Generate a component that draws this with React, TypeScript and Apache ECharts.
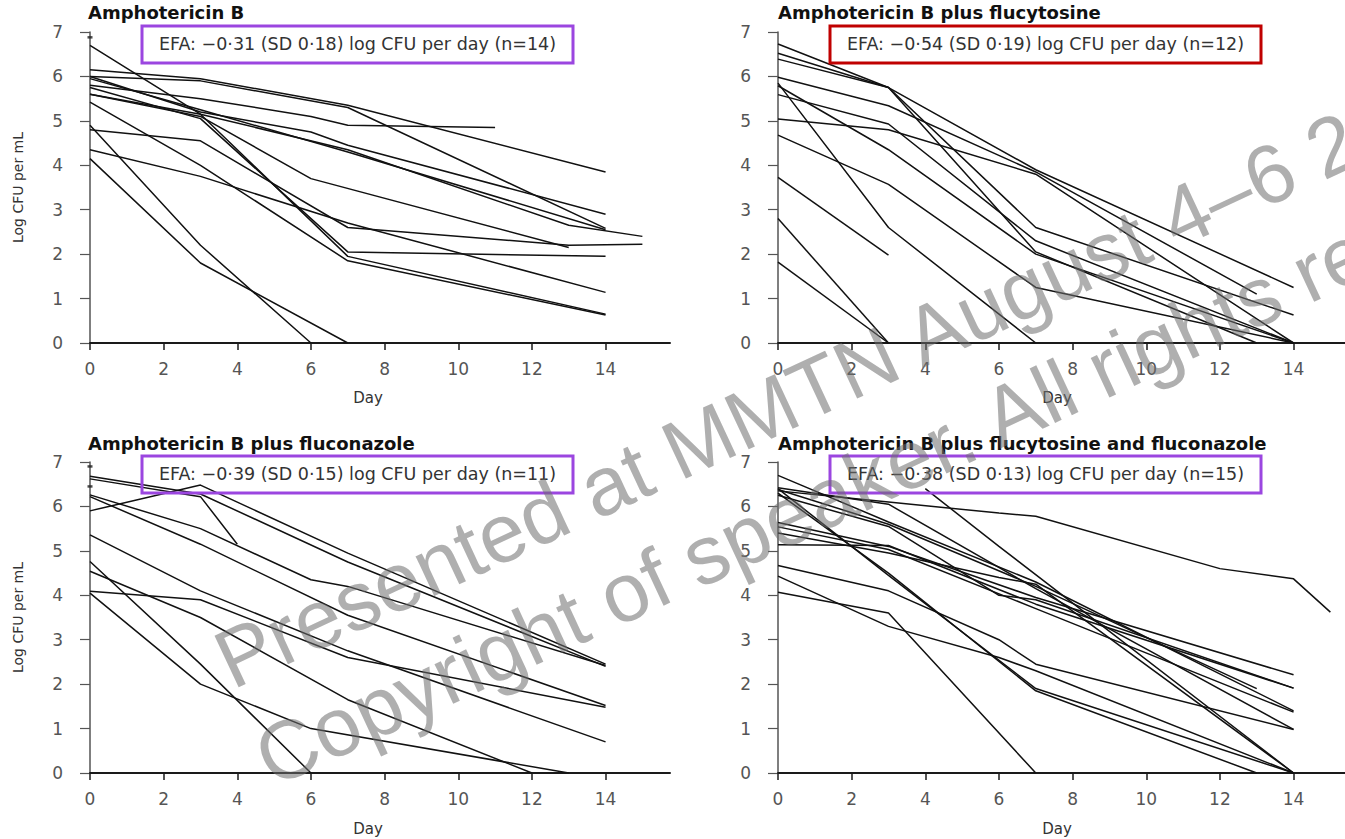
import React, { useEffect, useRef } from "react";
import * as echarts from "echarts";

// ---------- data ----------
const dayTicks = [0, 2, 4, 6, 8, 10, 12, 14];

const panelTitles = [
  "Amphotericin B",
  "Amphotericin B plus flucytosine",
  "Amphotericin B plus fluconazole",
  "Amphotericin B plus flucytosine and fluconazole",
];

const efaTexts = [
  "EFA: \u22120\u00b731 (SD 0\u00b718) log CFU per day (n=14)",
  "EFA: \u22120\u00b754 (SD 0\u00b719) log CFU per day (n=12)",
  "EFA: \u22120\u00b739 (SD 0\u00b715) log CFU per day (n=11)",
  "EFA: \u22120\u00b738 (SD 0\u00b713) log CFU per day (n=15)",
];

// Amphotericin B
const ampBLines: number[][][] = [
  [[0, 6.15], [3, 5.95], [7, 5.35], [14, 3.85]],
  [[0, 6.0], [3, 5.9], [7, 5.3], [14, 2.58]],
  [[0, 5.8], [3, 5.5], [6, 5.1], [7, 4.9], [11, 4.85]],
  [[0, 6.0], [3, 5.2], [6, 4.75], [7, 4.45], [14, 2.9]],
  [[0, 5.6], [3, 5.15], [7, 4.35], [13, 2.65], [15, 2.4]],
  [[0, 5.95], [3, 5.25], [7, 4.3], [14, 2.55]],
  [[0, 5.6], [3, 5.1], [6, 3.7], [13, 2.15]],
  [[0, 4.8], [3, 4.55], [7, 2.6], [13, 2.2], [15, 2.22]],
  [[0, 6.7], [3, 5.15], [7, 1.95], [14, 0.65]],
  [[0, 5.75], [3, 5.05], [7, 2.05], [14, 1.95]],
  [[0, 5.42], [3, 4.0], [7, 1.85], [14, 0.63]],
  [[0, 4.35], [3, 3.75], [7, 2.7], [14, 1.14]],
  [[0, 4.9], [3, 2.2], [6, 0]],
  [[0, 4.15], [3, 1.8], [7, 0]],
];
const ampBDots: number[][] = [[0, 6.88]];

// Amphotericin B plus flucytosine
const ampB5fcLines: number[][][] = [
  [[0, 2.8], [3, 0]],
  [[0, 1.82], [3, 0]],
  [[0, 3.73], [3, 1.98]],
  [[0, 5.85], [3, 2.6], [7, 0]],
  [[0, 4.68], [3, 3.57], [7, 1.25], [14, 0]],
  [[0, 6.73], [3, 5.75], [7, 3.9], [14, 1.25]],
  [[0, 6.52], [3, 5.75], [7, 2.6], [14, 0.63]],
  [[0, 6.39], [3, 5.75], [7, 2.05], [13, 0]],
  [[0, 5.98], [3, 5.34], [7, 3.85], [13, 1.1]],
  [[0, 5.04], [3, 4.8], [7, 3.8], [14, 0]],
  [[0, 5.59], [3, 4.93], [7, 2.3], [14, 0]],
  [[0, 5.79], [3, 4.35], [7, 2.0], [14, 0]],
];
const ampB5fcDots: number[][] = [];

// Amphotericin B plus fluconazole
const ampBFluLines: number[][][] = [
  [[0, 6.62], [3, 6.22], [4, 5.15]],
  [[0, 6.68], [3, 6.28], [7, 4.75], [14, 2.4]],
  [[0, 5.9], [3, 6.48], [7, 4.95], [14, 2.45]],
  [[0, 6.26], [3, 5.5], [6, 4.35], [7, 4.2], [14, 2.42]],
  [[0, 6.22], [3, 5.15], [7, 3.55], [14, 1.52]],
  [[0, 5.36], [3, 4.1], [7, 2.75], [14, 0.7]],
  [[0, 4.09], [3, 3.9], [7, 2.6], [14, 1.48]],
  [[0, 4.54], [3, 3.5], [7, 1.65], [12, 0]],
  [[0, 4.05], [3, 2.0], [6, 1.0], [13, 0]],
  [[0, 4.76], [3, 2.45], [6, 0]],
];
const ampBFluDots: number[][] = [[0, 6.9], [0, 6.45]];

// Amphotericin B plus flucytosine and fluconazole
const ampB5fcFluLines: number[][][] = [
  [[0, 6.35], [3, 6.1], [6, 5.85], [7, 5.78], [12, 4.6], [14, 4.37], [15, 3.62]],
  [[4, 6.4], [6, 5.1], [14, 0]],
  [[0, 4.07], [3, 3.6], [7, 0]],
  [[0, 4.67], [3, 4.1], [6, 3.0], [7, 2.45], [14, 0.98]],
  [[0, 4.43], [3, 3.3], [6, 2.6], [7, 2.3], [14, 0]],
  [[0, 6.4], [3, 4.45], [7, 1.9], [14, 0]],
  [[0, 6.3], [3, 4.5], [7, 1.85], [13, 0]],
  [[0, 6.7], [3, 5.65], [7, 4.3], [14, 1.4]],
  [[0, 6.42], [3, 6.05], [7, 4.15], [14, 0.98]],
  [[0, 6.38], [3, 5.6], [7, 4.2], [13, 1.9]],
  [[0, 6.25], [3, 5.55], [6, 4.0], [7, 3.9], [14, 1.91]],
  [[0, 5.64], [3, 5.1], [7, 3.95], [14, 2.21]],
  [[0, 5.54], [3, 5.03], [7, 3.7], [14, 1.37]],
  [[0, 5.4], [3, 4.95], [6, 4.4], [7, 4.25], [14, 0]],
  [[0, 5.14], [3, 5.12], [7, 3.8], [14, 1.91]],
];
const ampB5fcFluDots: number[][] = [];

const panelLines = [ampBLines, ampB5fcLines, ampBFluLines, ampB5fcFluLines];
const panelDots = [ampBDots, ampB5fcDots, ampBFluDots, ampB5fcFluDots];

const watermark1 = "Presented at MMTN August 4\u20136 2";
const watermark2 = "Copyright of speaker. All rights re";

// ---------- layout ----------
const layout = [
  { left: 90, top: 32, titleX: 88, titleY: 14, box: [142, 26, 431, 37], boxColor: "#9b46e0", dayX: 368, dayY: 398, yName: true },
  { left: 778, top: 32, titleX: 778, titleY: 14, box: [830, 26, 431, 37], boxColor: "#c00000", dayX: 1057, dayY: 398, yName: false },
  { left: 90, top: 462, titleX: 88, titleY: 445, box: [142, 456, 431, 37], boxColor: "#9b46e0", dayX: 368, dayY: 829, yName: true },
  { left: 778, top: 462, titleX: 778, titleY: 445, box: [830, 456, 431, 37], boxColor: "#9b46e0", dayX: 1057, dayY: 829, yName: false },
];

const FONT = "DejaVu Sans";

function buildOption() {
  const grid: any[] = [];
  const xAxis: any[] = [];
  const yAxis: any[] = [];
  const series: any[] = [];
  const graphic: any[] = [];

  layout.forEach((p, i) => {
    grid.push({ left: p.left, top: p.top, width: 580, height: 311, outerBoundsMode: "none", containLabel: false });
    xAxis.push({
      type: "value",
      gridIndex: i,
      min: 0,
      max: 15.75,
      interval: 2,
      offset: 9,
      axisLine: { show: true, lineStyle: { color: "#1a1a1a", width: 2 } },
      axisTick: { show: true, length: 7, customValues: dayTicks, lineStyle: { color: "#1a1a1a", width: 1.5 } },
      axisLabel: { customValues: dayTicks, color: "#555", fontSize: 17, fontFamily: FONT, margin: 8 },
      splitLine: { show: false },
    });
    yAxis.push({
      type: "value",
      gridIndex: i,
      min: 0,
      max: 7,
      interval: 1,
      offset: 13,
      axisLine: { show: true, lineStyle: { color: "#555", width: 1.5 } },
      axisTick: { show: true, length: 10, lineStyle: { color: "#555", width: 1.2 } },
      axisLabel: { color: "#555", fontSize: 17, fontFamily: FONT, margin: 14 },
      splitLine: { show: false },
      name: p.yName ? "Log CFU per mL" : "",
      nameLocation: "middle",
      nameGap: 52,
      nameTextStyle: { fontSize: 14, color: "#333", fontFamily: FONT },
    });
    panelLines[i].forEach((line, k) => {
      series.push({
        type: "line",
        name: `p${i}-${k}`,
        xAxisIndex: i,
        yAxisIndex: i,
        data: line,
        symbol: "none",
        showSymbol: false,
        silent: true,
        lineStyle: { color: "#111", width: 1.5 },
        z: 2,
      });
    });
    if (panelDots[i].length) {
      series.push({
        type: "scatter",
        xAxisIndex: i,
        yAxisIndex: i,
        data: panelDots[i],
        symbol: "rect",
        symbolSize: [5, 2.5],
        itemStyle: { color: "#222" },
        silent: true,
      });
    }
    // title
    graphic.push({
      type: "text",
      left: p.titleX,
      top: p.titleY - 11,
      style: { text: panelTitles[i], fill: "#111", font: `bold 18px '${FONT}'` },
      z: 10,
    });
    // EFA box
    graphic.push({
      type: "rect",
      shape: { x: p.box[0], y: p.box[1], width: p.box[2], height: p.box[3] },
      style: { fill: "none", stroke: p.boxColor, lineWidth: 3 },
      z: 10,
    });
    graphic.push({
      type: "text",
      x: p.box[0] + p.box[2] / 2,
      y: p.box[1] + p.box[3] / 2 - 1,
      style: { text: efaTexts[i], fill: "#333", font: `17.5px '${FONT}'`, align: "center", verticalAlign: "middle" },
      z: 10,
    });
    // Day label
    graphic.push({
      type: "text",
      x: p.dayX,
      y: p.dayY,
      style: { text: "Day", fill: "#333", font: `15px '${FONT}'`, align: "center", verticalAlign: "middle" },
      z: 10,
    });
  });

  const rot = (25 * Math.PI) / 180;
  graphic.push({
    type: "text",
    x: 238,
    y: 702,
    rotation: rot,
    style: { text: watermark1, fill: "rgba(110,110,110,0.55)", font: "83px 'Liberation Sans'", align: "left", verticalAlign: "bottom" },
    z: 100,
    silent: true,
  });
  graphic.push({
    type: "text",
    x: 278,
    y: 800,
    rotation: rot,
    style: { text: watermark2, fill: "rgba(110,110,110,0.55)", font: "83px 'Liberation Sans'", align: "left", verticalAlign: "bottom" },
    z: 100,
    silent: true,
  });

  return {
    animation: false,
    backgroundColor: "#ffffff",
    grid,
    xAxis,
    yAxis,
    series,
    graphic,
  };
}

export default function App() {
  const ref = useRef<HTMLDivElement>(null);
  useEffect(() => {
    if (!ref.current) return;
    const chart = echarts.init(ref.current, null, { renderer: "svg" });
    chart.setOption(buildOption() as any);
    return () => chart.dispose();
  }, []);
  return (
    <div
      ref={ref}
      style={{ position: "fixed", left: 0, top: 0, width: 1345, height: 839, background: "#fff" }}
    />
  );
}
